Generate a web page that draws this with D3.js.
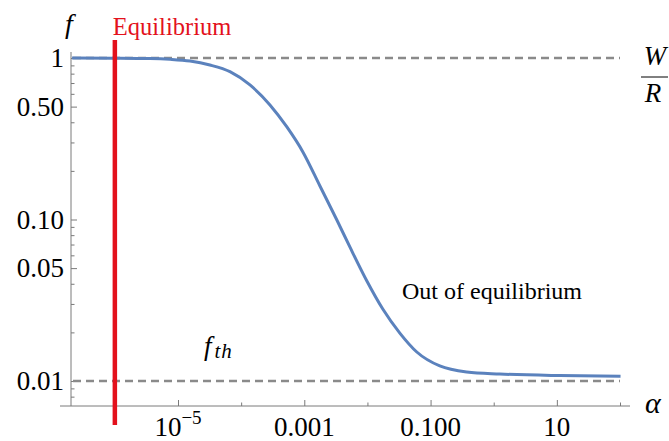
<!DOCTYPE html>
<html>
<head>
<meta charset="utf-8">
<script src="https://cdn.jsdelivr.net/npm/d3@7"></script>
<style>
  body { margin: 0; background: #fff; }
  svg { display: block; }
</style>
</head>
<body>
<svg id="chart" width="669" height="441" font-family="'Liberation Serif', 'DejaVu Serif', serif"></svg>
<script>
// Fraction f as a function of the coupling alpha
const alpha = [2.1e-7, 9.4e-7, 3.6e-6, 7.5e-6, 1.55e-5, 3.2e-5, 6.65e-5, 1.38e-4, 2.86e-4,
               5.3e-4, 9.5e-4, 1.77e-3, 3.28e-3, 5.27e-3, 9.8e-3, 1.75e-2, 3.26e-2, 6.05e-2,
               0.14, 0.374, 1.25, 11, 102];
const fraction = [1.0, 0.998, 0.993, 0.982, 0.958, 0.905, 0.823, 0.681, 0.512,
                  0.374, 0.262, 0.1612, 0.0993, 0.0676, 0.0416, 0.0279, 0.0198, 0.01512,
                  0.01239, 0.01137, 0.01105, 0.0108, 0.0107];

// Reference levels and the equilibrium coupling
const fUpper = 1;        // W/R
const fThreshold = 0.01; // f_th
const alphaEquilibrium = 1e-6;

// Ticks
const xMajorTicks = [1e-5, 1e-3, 1e-1, 10];
const xMajorLabels = [["10", "\u22125"], ["0.001"], ["0.100"], ["10"]];
const xMinorTicks = [1e-6, 1e-4, 1e-2, 1, 100];
const yMajorTicks = [0.01, 0.05, 0.1, 0.5, 1];
const yMajorLabels = ["0.01", "0.05", "0.10", "0.50", "1"];
const yMinorTicks = [0.008, 0.009, 0.02, 0.03, 0.04, 0.06, 0.07, 0.08, 0.09,
                     0.2, 0.3, 0.4, 0.6, 0.7, 0.8, 0.9];

const serif = "'Liberation Serif', 'DejaVu Serif', serif";
const svg = d3.select("#chart");

const x = d3.scaleLog().domain([1e-5, 100]).range([178, 620]);
const y = d3.scaleLog().domain([0.01, 1]).range([381, 58]);

const axisX = 71;   // vertical axis position
const axisY = 406;  // horizontal axis position
const axisColor = "#7a7a7a";

// Horizontal axis line and ticks
svg.append("line")
  .attr("x1", 60).attr("x2", 630).attr("y1", axisY).attr("y2", axisY)
  .attr("stroke", axisColor).attr("stroke-width", 1);

const gx = svg.append("g").attr("transform", `translate(0,${axisY})`);
gx.call(d3.axisBottom(x).tickValues(xMajorTicks).tickSize(-6).tickFormat(""));
gx.append("g").call(d3.axisBottom(x).tickValues(xMinorTicks).tickSize(-3.5).tickFormat(""));
gx.selectAll(".domain").remove();
gx.selectAll(".tick line").attr("stroke", axisColor);

// Horizontal tick labels
const xl = svg.append("g");
xMajorTicks.forEach((v, i) => {
  const t = xl.append("text")
    .attr("x", x(v)).attr("y", 436)
    .attr("text-anchor", "middle")
    .attr("font-family", serif)
    .attr("font-size", 27).attr("fill", "#000");
  const parts = xMajorLabels[i];
  t.append("tspan").text(parts[0]);
  if (parts.length > 1) {
    t.append("tspan").attr("dy", -12).attr("font-size", 19).text(parts[1]);
  }
});

// Vertical axis line and ticks
svg.append("line")
  .attr("x1", axisX).attr("x2", axisX).attr("y1", 52).attr("y2", axisY)
  .attr("stroke", axisColor).attr("stroke-width", 1);

const gy = svg.append("g").attr("transform", `translate(${axisX},0)`);
gy.call(d3.axisLeft(y).tickValues(yMajorTicks).tickSize(-6).tickFormat(""));
gy.append("g").call(d3.axisLeft(y).tickValues(yMinorTicks).tickSize(-3.5).tickFormat(""));
gy.selectAll(".domain").remove();
gy.selectAll(".tick line").attr("stroke", axisColor);

// Vertical tick labels
svg.append("g").selectAll("text")
  .data(yMajorTicks)
  .join("text")
  .attr("x", 64).attr("y", d => y(d))
  .attr("dy", "0.34em")
  .attr("text-anchor", "end")
  .attr("font-family", serif)
  .attr("font-size", 27).attr("fill", "#000")
  .text((d, i) => yMajorLabels[i]);

// Dashed reference levels
const dashColor = "#8a8a8a";
[fUpper, fThreshold].forEach(level => {
  svg.append("line")
    .attr("x1", 73).attr("x2", x(100))
    .attr("y1", y(level)).attr("y2", y(level))
    .attr("stroke", dashColor).attr("stroke-width", 2.6)
    .attr("stroke-dasharray", "8,5");
});

// Curve
const points = alpha.map((a, i) => ({ a, f: fraction[i] }));
const line = d3.line()
  .x(d => x(d.a)).y(d => y(d.f))
  .curve(d3.curveMonotoneX);
svg.append("path")
  .datum(points)
  .attr("d", line)
  .attr("fill", "none")
  .attr("stroke", "#5b82bd")
  .attr("stroke-width", 3);

// Equilibrium marker
svg.append("line")
  .attr("x1", x(alphaEquilibrium)).attr("x2", x(alphaEquilibrium))
  .attr("y1", 40).attr("y2", 425)
  .attr("stroke", "#e3111c").attr("stroke-width", 4.5);

svg.append("text")
  .attr("x", x(alphaEquilibrium) - 2).attr("y", 35)
  .attr("font-family", serif)
  .attr("font-size", 24.5).attr("fill", "#e3111c")
  .text("Equilibrium");

// Axis labels
svg.append("text")
  .attr("x", 69).attr("y", 33)
  .attr("text-anchor", "middle")
  .attr("font-family", serif)
  .attr("font-size", 28).attr("font-style", "italic")
  .text("f");

svg.append("text")
  .attr("x", 645).attr("y", 413)
  .attr("font-family", serif)
  .attr("font-size", 30).attr("font-style", "italic")
  .text("\u03b1");

// Annotations
svg.append("text")
  .attr("x", 402).attr("y", 299)
  .attr("font-family", serif)
  .attr("font-size", 24)
  .text("Out of equilibrium");

const fth = svg.append("text")
  .attr("x", 204).attr("y", 355)
  .attr("font-family", serif)
  .attr("font-style", "italic");
fth.append("tspan").attr("font-size", 27).text("f");
fth.append("tspan").attr("font-size", 21).attr("dx", 3).attr("dy", 3)
  .attr("letter-spacing", 1).text("th");

// W / R fraction
svg.append("text")
  .attr("x", 655).attr("y", 65)
  .attr("text-anchor", "middle")
  .attr("font-family", serif)
  .attr("font-size", 27).attr("font-style", "italic")
  .text("W");
svg.append("line")
  .attr("x1", 641).attr("x2", 668).attr("y1", 77).attr("y2", 77)
  .attr("stroke", "#000").attr("stroke-width", 1);
svg.append("text")
  .attr("x", 653).attr("y", 102)
  .attr("text-anchor", "middle")
  .attr("font-family", serif)
  .attr("font-size", 27).attr("font-style", "italic")
  .text("R");
</script>
</body>
</html>
